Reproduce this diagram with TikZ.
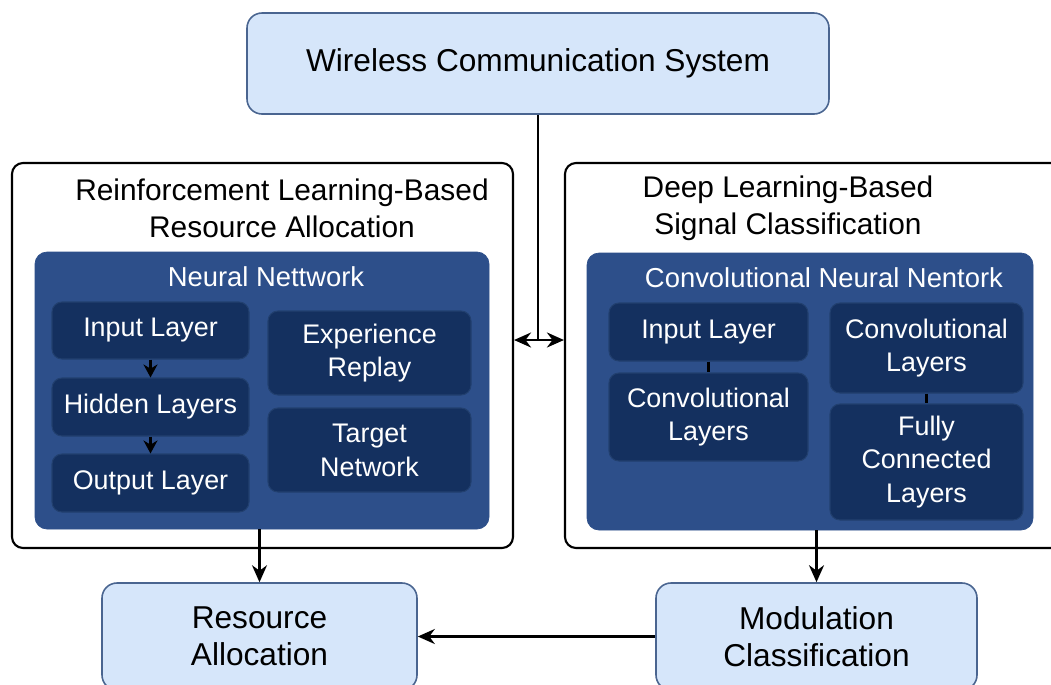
\documentclass[tikz,border=0pt]{standalone}
\usepackage{fontspec}
\setmainfont{Liberation Sans}
\usepackage{xcolor}
\usetikzlibrary{arrows.meta, positioning, calc}

\definecolor{paleblue}{HTML}{D6E6FA}
\definecolor{paleedge}{HTML}{4A6590}
\definecolor{midblue}{HTML}{2D4F8A}
\definecolor{navy}{HTML}{14305F}
\definecolor{navyedge}{HTML}{22406F}

\begin{document}
\begin{tikzpicture}[
    x=0.02cm, y=-0.02cm,
    wh/.style 2 args={minimum width=#1*0.02cm, minimum height=#2*0.02cm, inner sep=0pt},
    topbox/.style={rectangle, draw=paleedge, line width=0.9pt, fill=paleblue,
                   rounded corners=0.3cm, align=center, font=\fontsize{18}{21}\selectfont},
    outer/.style={rectangle, draw=black, line width=1.2pt, fill=white, rounded corners=0.22cm},
    nnet/.style={rectangle, fill=midblue, draw=midblue, rounded corners=0.24cm},
    layer/.style={rectangle, draw=navyedge, line width=0.6pt, fill=navy, text=white,
                  rounded corners=0.2cm, align=center, font=\fontsize{15.3}{19.3}\selectfont},
    ttl/.style={align=center, font=\fontsize{17}{21}\selectfont},
    nttl/.style={text=white, font=\fontsize{15.6}{19}\selectfont},
    arr/.style={-{Stealth[length=3.4mm, width=3mm]}, line width=1.4pt},
    sarr/.style={-{Stealth[length=2.6mm, width=2.8mm]}, line width=1.4pt},
    tick/.style={line width=1.5pt},
  ]
    \useasboundingbox (0,0) rectangle (1051,684);
    \clip (0,0) rectangle (1051,684);
    % top
    \node[topbox, wh={582}{101}] (wcs) at (538,63.5) {\raisebox{-2.5pt}{Wireless Communication System}};
    % outer panels
    \node[outer, wh={501}{385}] (rlbox) at (262.5,355.5) {};
    \node[outer, wh={505}{385}] (dlbox) at (817.5,355.5) {};
    \node[ttl] (rltitle) at (282,208.5) {Reinforcement Learning-Based\\Resource Allocation};
    \node[ttl] (dltitle) at (788,208.5) {Deep Learning-Based\\Signal Classification};
    % left network
    \node[nnet, wh={454}{277}] (nnbox) at (262,390.5) {};
    \node[nttl] (nntitle) at (266,277) {Neural Nettwork};
    \node[layer, wh={197}{57}] (inl) at (150.5,330.5) {\raisebox{-2pt}{Input Layer}};
    \node[layer, wh={197}{58}] (hid) at (150.5,407) {\raisebox{-2pt}{Hidden Layers}};
    \node[layer, wh={197}{58}] (outl) at (150.5,483) {\raisebox{-2pt}{Output Layer}};
    \node[layer, wh={203}{84}] (exp) at (369.5,353) {Experience\\Replay};
    \node[layer, wh={203}{84}] (tgt) at (369.5,450) {Target\\Network};
    \draw[sarr] (inl) -- (hid);
    \draw[sarr] (hid) -- (outl);
    % right network
    \node[nnet, wh={446}{277}] (cnnbox) at (810,391.5) {};
    \node[nttl] (cnntitle) at (824,278) {Convolutional Neural Nentork};
    \node[layer, wh={199}{58}] (cin) at (708.5,332) {\raisebox{-2pt}{Input Layer}};
    \node[layer, wh={199}{88}] (cconva) at (708.5,417) {Convolutional\\Layers};
    \node[layer, wh={193}{90}] (cconvb) at (926.5,348) {Convolutional\\Layers};
    \node[layer, wh={193}{116}] (cfc) at (926.5,462) {Fully\\Connected\\Layers};
    \draw[tick] (cin) -- (cconva);
    \draw[tick] (cconvb) -- (cfc);
    % bottom
    \node[topbox, wh={315}{107}] (ra) at (259.5,636.5) {Resource\\Allocation};
    \node[topbox, wh={321}{107}] (mc) at (816.5,636.5) {Modulation\\Classification};
    % connectors
    \coordinate (junc) at (538,340);
    \draw[tick] (wcs.south) -- (junc);
    \draw[arr, {Stealth[length=3.4mm, width=3mm]}-{Stealth[length=3.4mm, width=3mm]}]
      (rlbox.east |- junc) -- (dlbox.west |- junc);
    \draw[arr] (nnbox.south -| ra.north) -- (ra.north);
    \draw[arr] (cnnbox.south -| mc.north) -- (mc.north);
    \draw[arr] (mc.west) -- (ra.east);
  \end{tikzpicture}
\end{document}
